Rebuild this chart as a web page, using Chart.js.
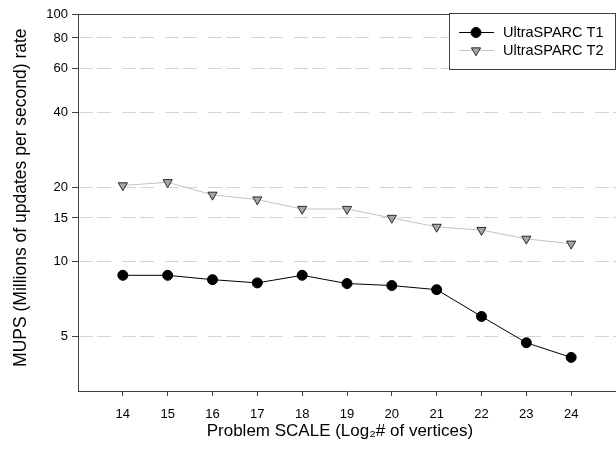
<!DOCTYPE html>
<html>
<head>
<meta charset="utf-8">
<script src="https://cdn.jsdelivr.net/npm/chart.js@4/dist/chart.umd.min.js"></script>
<style>
  html, body { margin: 0; padding: 0; background: #fff; }
  #wrap { width: 616px; height: 449px; position: relative; }
</style>
</head>
<body>
<div id="wrap"><canvas id="c" width="616" height="449"></canvas></div>
<script>
// ---- data ----
const scales = [14, 15, 16, 17, 18, 19, 20, 21, 22, 23, 24];
const t1Values = [8.8, 8.8, 8.45, 8.2, 8.8, 8.15, 8.0, 7.7, 6.0, 4.7, 4.1];
const t2Values = [20.3, 20.9, 18.6, 17.8, 16.3, 16.3, 15.0, 13.8, 13.4, 12.35, 11.8];
const yTickValues = [5, 10, 15, 20, 40, 60, 80, 100];
const seriesNames = ['UltraSPARC T1', 'UltraSPARC T2'];
const xTitle = 'Problem SCALE (Log\u2082# of vertices)';
const yTitle = 'MUPS (Millions of updates per second) rate';

const FONT = "'Liberation Sans', Arial, sans-serif";

const frameAndLegend = {
  id: 'frameAndLegend',
  afterDraw(chart) {
    const ctx = chart.ctx;
    const a = chart.chartArea;
    ctx.save();
    ctx.setLineDash([]);
    // top frame line
    ctx.strokeStyle = '#404040';
    ctx.lineWidth = 1;
    ctx.beginPath();
    ctx.moveTo(a.left, a.top + 0.5);
    ctx.lineTo(616, a.top + 0.5);
    ctx.stroke();
    // legend box
    const bx = 449.5, by = 13.5, bw = 166, bh = 56;
    ctx.fillStyle = '#fff';
    ctx.fillRect(bx, by, bw, bh);
    ctx.strokeStyle = '#404040';
    ctx.strokeRect(bx, by, bw, bh);
    const rows = [32, 50];
    chart.data.datasets.forEach((ds, i) => {
      const y = rows[i];
      ctx.strokeStyle = ds.borderColor;
      ctx.lineWidth = 1;
      ctx.beginPath();
      ctx.moveTo(459, y + 0.5);
      ctx.lineTo(494, y + 0.5);
      ctx.stroke();
      ctx.fillStyle = ds.pointBackgroundColor;
      ctx.strokeStyle = ds.pointBorderColor;
      Chart.helpers.drawPoint(ctx, {
        pointStyle: ds.pointStyle,
        radius: ds.pointRadius,
        rotation: ds.pointRotation || 0,
        borderWidth: 1
      }, 476, y + 0.5);
      ctx.fillStyle = '#000';
      ctx.font = '14.5px ' + FONT;
      ctx.textBaseline = 'middle';
      ctx.textAlign = 'left';
      ctx.fillText(ds.label, 503, y + 1);
    });
    ctx.restore();
  }
};

new Chart(document.getElementById('c'), {
  type: 'line',
  data: {
    datasets: [
      {
        label: seriesNames[0],
        data: scales.map((x, i) => ({ x: x, y: t1Values[i] })),
        borderColor: '#000',
        borderWidth: 1,
        pointStyle: 'circle',
        pointRadius: 5,
        pointBackgroundColor: '#000',
        pointBorderColor: '#000',
        pointBorderWidth: 1,
        tension: 0
      },
      {
        label: seriesNames[1],
        data: scales.map((x, i) => ({ x: x, y: t2Values[i] })),
        borderColor: '#c4c4c4',
        borderWidth: 1,
        pointStyle: 'triangle',
        pointRotation: 180,
        pointRadius: 5.3,
        pointBackgroundColor: '#a6a6a6',
        pointBorderColor: '#2a2a2a',
        pointBorderWidth: 1,
        tension: 0
      }
    ]
  },
  options: {
    responsive: false,
    animation: false,
    layout: { autoPadding: false, padding: { top: 14, right: 0, bottom: 0, left: 0 } },
    plugins: { legend: { display: false }, tooltip: { enabled: false } },
    scales: {
      x: {
        type: 'linear',
        min: 13,
        max: 25,
        afterBuildTicks: (s) => { s.ticks = scales.map(v => ({ value: v })); },
        afterFit: (s) => { s.height = 58; s.paddingRight = 0; s.paddingLeft = 0; },
        border: { display: true, color: '#404040', width: 1 },
        grid: { drawOnChartArea: false, drawTicks: true, tickLength: 5, color: '#404040' },
        ticks: {
          color: '#000',
          font: { family: FONT, size: 13 },
          padding: 11,
          maxRotation: 0,
          callback: (v) => String(v)
        },
        title: {
          display: true,
          text: xTitle + '   ',
          color: '#000',
          font: { family: FONT, size: 17 },
          padding: { top: 0, bottom: 7 }
        }
      },
      y: {
        type: 'logarithmic',
        min: 3,
        max: 100,
        afterBuildTicks: (s) => { s.ticks = yTickValues.map(v => ({ value: v })); },
        afterFit: (s) => { s.width = 78; },
        border: { display: true, color: '#404040', width: 1, dash: [14, 4, 14, 11] },
        grid: {
          drawOnChartArea: true,
          drawTicks: true,
          tickLength: 6,
          color: (c) => (c.tick && c.tick.value === 100) ? 'rgba(0,0,0,0)' : '#d4d4d4',
          tickColor: '#404040',
          tickBorderDash: []
        },
        ticks: {
          color: '#000',
          font: { family: FONT, size: 13 },
          padding: 4,
          callback: (v) => String(v)
        },
        title: {
          display: true,
          text: '  ' + yTitle,
          color: '#000',
          font: { family: FONT, size: 17.5 },
          padding: { top: 11, bottom: 0 }
        }
      }
    }
  },
  plugins: [frameAndLegend]
});
</script>
</body>
</html>
